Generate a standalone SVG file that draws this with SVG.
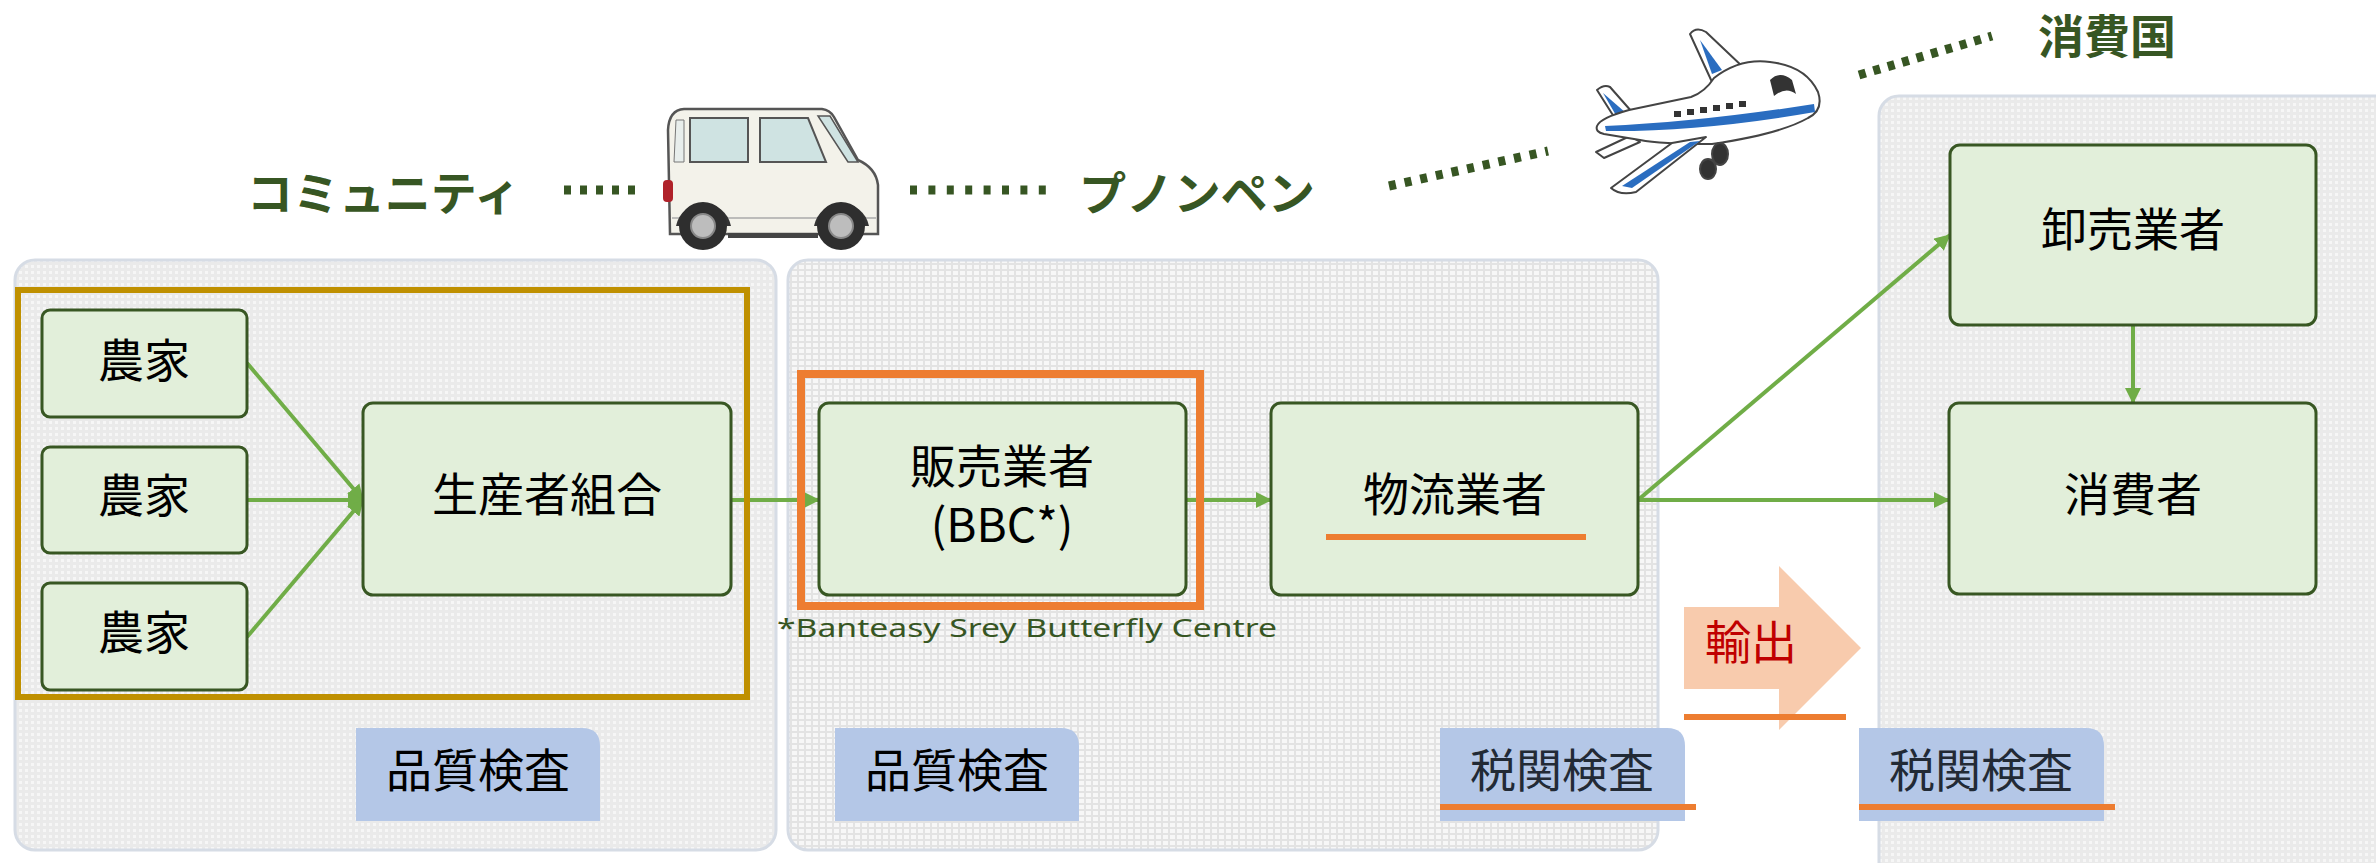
<svg xmlns="http://www.w3.org/2000/svg" width="2376" height="863" viewBox="0 0 2376 863">
  <style>
    .panel { stroke: #D6DCE5; stroke-width: 3; }
    .node { fill: #E2EFDA; stroke: #385723; stroke-width: 3; }
    .ntext { font-family: "Noto Sans CJK JP", "Noto Sans", sans-serif; font-size: 46px; fill: #000; text-anchor: middle; }
    .head { font-family: "Noto Sans CJK JP", sans-serif; font-size: 46px; font-weight: bold; fill: #375623; }
    .dots { stroke: #375623; stroke-width: 9; fill: none; }
    .conn { stroke: #70AD47; stroke-width: 4; fill: none; marker-end: url(#arrow); }
    .label { fill: #B4C7E7; }
    .ltext { font-family: "Noto Sans CJK JP", sans-serif; font-size: 46px; text-anchor: middle; }
    .uline { stroke: #ED7D31; stroke-width: 6; }
  </style>
  <defs>
    <pattern id="dotted" width="6" height="6" patternUnits="userSpaceOnUse">
      <rect width="6" height="6" fill="#EAEAEA"/>
      <rect x="1" y="1" width="3" height="3" fill="#F6F6F6"/>
    </pattern>
    <pattern id="grid" width="7" height="6" patternUnits="userSpaceOnUse">
      <rect width="7" height="6" fill="#E3E3E3"/>
      <rect x="1" y="1" width="5" height="4" fill="#F7F7F7"/>
    </pattern>
    <marker id="arrow" markerUnits="userSpaceOnUse" markerWidth="16" markerHeight="16" refX="15" refY="8" orient="auto">
      <path d="M0,0 L16,8 L0,16 Z" fill="#70AD47"/>
    </marker>
  </defs>

  <!-- background panels -->
  <g id="panels">
    <rect class="panel" x="15" y="260" width="761" height="590" rx="20" fill="url(#dotted)"/>
    <rect class="panel" x="788" y="260" width="870" height="590" rx="20" fill="url(#grid)"/>
    <rect class="panel" x="1879" y="96" width="540" height="800" rx="20" fill="url(#dotted)"/>
  </g>

  <!-- route headings -->
  <g id="route">
    <text class="head" x="247" y="210" font-size="50" textLength="273" lengthAdjust="spacingAndGlyphs">コミュニティ</text>
    <line class="dots" x1="564" y1="190" x2="637" y2="190" stroke-dasharray="7 9"/>
    <line class="dots" x1="910" y1="190" x2="1046" y2="190" stroke-dasharray="7 11.4"/>
    <text class="head" x="1079" y="210" font-size="50" textLength="236" lengthAdjust="spacingAndGlyphs">プノンペン</text>
    <line class="dots" x1="1389" y1="186" x2="1548" y2="151" stroke-dasharray="7 9"/>
    <line class="dots" x1="1859" y1="75" x2="1992" y2="36" stroke-dasharray="7 8"/>
    <text class="head" x="2038" y="53">消費国</text>
  </g>

  <!-- van -->
  <g id="van">
    <path d="M670,234 L668,130 Q669,110 684,109 L822,109 Q830,110 834,117 L858,160 Q876,168 878,185 L878,234 Z" fill="#F3F2EA" stroke="#555" stroke-width="2.5"/>
    <path d="M690,118 H748 V162 H690 Z" fill="#CFE3E2" stroke="#555" stroke-width="2"/>
    <path d="M760,118 H808 L826,162 H760 Z" fill="#CFE3E2" stroke="#555" stroke-width="2"/>
    <path d="M818,116 L830,116 L858,162 L848,162 Z" fill="#CFE3E2" stroke="#555" stroke-width="1.5"/>
    <path d="M676,120 L684,120 L684,162 L674,162 Z" fill="#E8EEEC" stroke="#777" stroke-width="1"/>
    <rect x="663" y="180" width="10" height="22" rx="4" fill="#B0222A"/>
    <line x1="672" y1="218" x2="876" y2="218" stroke="#AAA" stroke-width="1.5"/>
    <rect x="728" y="233" width="90" height="5" fill="#444"/>
    <path d="M676,226 A28,28 0 0 1 731,226" fill="#333"/>
    <path d="M814,226 A28,28 0 0 1 869,226" fill="#333"/>
    <circle cx="703" cy="226" r="24" fill="#2E2E2E"/>
    <circle cx="703" cy="226" r="12" fill="#BDBDBD" stroke="#888" stroke-width="2"/>
    <circle cx="841" cy="226" r="24" fill="#2E2E2E"/>
    <circle cx="841" cy="226" r="12" fill="#BDBDBD" stroke="#888" stroke-width="2"/>
  </g>

  <!-- airplane -->
  <g id="airplane" stroke="#444" stroke-width="2" stroke-linejoin="round">
    <path d="M1712,82 L1690,34 Q1696,26 1706,32 L1744,68 Z" fill="#FFF"/>
    <path d="M1700,40 L1712,74 L1722,70 Z" fill="#2A6DC0" stroke="none"/>
    <path d="M1597,90 Q1604,84 1610,87 L1632,112 L1616,120 Z" fill="#FFF"/>
    <path d="M1603,93 L1626,113 L1617,117 Z" fill="#2A6DC0" stroke="none"/>
    <path d="M1596,152 L1630,136 L1640,142 L1604,158 Z" fill="#FFF"/>
    <path d="M1597,126 Q1600,118 1629,110 L1691,97 Q1705,92 1714,78 Q1740,58 1770,62 Q1806,66 1818,92 Q1824,110 1808,118 Q1780,134 1712,144 Q1660,144 1640,140 L1604,134 Q1595,132 1597,126 Z" fill="#FFF"/>
    <path d="M1605,126 Q1700,122 1814,104 L1815,112 Q1700,132 1606,131 Z" fill="#2A6DC0" stroke="none"/>
    <path d="M1770,80 Q1780,70 1792,80 L1796,94 Q1786,86 1774,96 Z" fill="#333" stroke="none"/>
    <g fill="#333" stroke="none">
      <rect x="1674" y="111" width="7" height="6"/>
      <rect x="1687" y="109" width="7" height="6"/>
      <rect x="1700" y="107" width="7" height="6"/>
      <rect x="1713" y="105" width="7" height="6"/>
      <rect x="1726" y="103" width="7" height="6"/>
      <rect x="1739" y="101" width="7" height="6"/>
    </g>
    <ellipse cx="1720" cy="154" rx="8" ry="11" fill="#333"/>
    <ellipse cx="1708" cy="169" rx="8" ry="10" fill="#333"/>
    <path d="M1706,137 L1672,143 L1611,188 Q1620,196 1636,192 Z" fill="#FFF"/>
    <path d="M1690,142 L1622,186 L1632,188 L1700,141 Z" fill="#2A6DC0" stroke="none"/>
  </g>

  <!-- connectors -->
  <g id="connectors">
    <line class="conn" x1="247" y1="363" x2="363" y2="500"/>
    <line class="conn" x1="247" y1="500" x2="363" y2="500"/>
    <line class="conn" x1="247" y1="637" x2="363" y2="500"/>
    <line class="conn" x1="731" y1="500" x2="819" y2="500"/>
    <line class="conn" x1="1186" y1="500" x2="1271" y2="500"/>
    <line class="conn" x1="1638" y1="500" x2="1950" y2="235"/>
    <line class="conn" x1="1638" y1="500" x2="1949" y2="500"/>
    <line class="conn" x1="2133" y1="325" x2="2133" y2="403"/>
  </g>

  <!-- producer group frame -->
  <rect id="producer-frame" x="18" y="290" width="729" height="407" fill="none" stroke="#BF9000" stroke-width="6"/>

  <g id="farmer1">
    <rect class="node" x="42" y="310" width="205" height="107" rx="8"/>
    <text class="ntext" x="144" y="377">農家</text>
  </g>
  <g id="farmer2">
    <rect class="node" x="42" y="447" width="205" height="106" rx="8"/>
    <text class="ntext" x="144" y="512">農家</text>
  </g>
  <g id="farmer3">
    <rect class="node" x="42" y="583" width="205" height="107" rx="8"/>
    <text class="ntext" x="144" y="649">農家</text>
  </g>
  <g id="cooperative">
    <rect class="node" x="363" y="403" width="368" height="192" rx="10"/>
    <text class="ntext" x="547" y="511">生産者組合</text>
  </g>

  <g id="seller">
    <rect x="801" y="374" width="399" height="232" fill="none" stroke="#ED7D31" stroke-width="8"/>
    <rect class="node" x="819" y="403" width="367" height="192" rx="10"/>
    <text class="ntext" x="1002" y="483">販売業者</text>
    <text class="ntext" x="1002" y="542">(BBC*)</text>
    <text x="777" y="637" font-family="'Noto Sans', 'DejaVu Sans', sans-serif" font-size="26" fill="#375623" textLength="500" lengthAdjust="spacingAndGlyphs">*Banteasy Srey Butterfly Centre</text>
  </g>

  <g id="logistics">
    <rect class="node" x="1271" y="403" width="367" height="192" rx="10"/>
    <text class="ntext" x="1455" y="511">物流業者</text>
    <line class="uline" x1="1326" y1="537" x2="1586" y2="537"/>
  </g>

  <g id="wholesaler">
    <rect class="node" x="1950" y="145" width="366" height="180" rx="10"/>
    <text class="ntext" x="2133" y="246">卸売業者</text>
  </g>
  <g id="consumer">
    <rect class="node" x="1949" y="403" width="367" height="191" rx="10"/>
    <text class="ntext" x="2133" y="511">消費者</text>
  </g>

  <!-- export arrow -->
  <g id="export">
    <polygon points="1684,607 1779,607 1779,566 1861,648 1779,730 1779,689 1684,689" fill="#F8CBAD"/>
    <text class="ltext" x="1751" y="659" fill="#C00000">輸出</text>
    <line class="uline" x1="1684" y1="717" x2="1846" y2="717"/>
  </g>

  <!-- inspection labels -->
  <g id="quality1">
    <path class="label" d="M356,728 H582 Q600,728 600,746 V821 H356 Z"/>
    <text class="ltext" x="478" y="787" fill="#000">品質検査</text>
  </g>
  <g id="quality2">
    <path class="label" d="M835,728 H1061 Q1079,728 1079,746 V821 H835 Z"/>
    <text class="ltext" x="957" y="787" fill="#000">品質検査</text>
  </g>
  <g id="customs1">
    <path class="label" d="M1440,728 H1667 Q1685,728 1685,746 V821 H1440 Z"/>
    <text class="ltext" x="1562" y="787" fill="#222A35">税関検査</text>
    <line class="uline" x1="1440" y1="807" x2="1696" y2="807"/>
  </g>
  <g id="customs2">
    <path class="label" d="M1859,728 H2086 Q2104,728 2104,746 V821 H1859 Z"/>
    <text class="ltext" x="1981" y="787" fill="#222A35">税関検査</text>
    <line class="uline" x1="1859" y1="807" x2="2115" y2="807"/>
  </g>
</svg>
